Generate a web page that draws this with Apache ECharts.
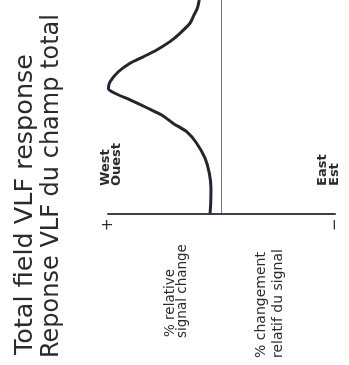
<!DOCTYPE html>
<html>
<head>
<meta charset="utf-8">
<script src="https://cdn.jsdelivr.net/npm/echarts@6/dist/echarts.min.js"></script>
<style>
html,body{margin:0;padding:0;background:#fff;}
#c{width:349px;height:365px;}
</style>
</head>
<body>
<div id="c"></div>
<script>
// Profile position along the traverse (0 = at the axis, 100 = top of figure)
const positions = [0, 4.8, 11.8, 18.8, 25.9, 32.9, 38.3, 42.2, 46.1, 49.3, 53.2, 56.3, 58.6, 61.7, 66.4, 70.4, 73.4, 76.6, 80.5, 84.4, 89.1, 93.0, 96.1, 100];
// % relative signal change (positive to the left)
const signalChange = [1.01, 0.95, 0.93, 1.07, 1.45, 2.19, 3.07, 4.25, 5.27, 6.48, 8.06, 9.38, 9.97, 9.82, 9.09, 8.06, 6.89, 5.71, 4.54, 3.66, 2.78, 2.42, 2.13, 1.96];
// tick labels at the ends of the signal-change axis
const tickValues = [10, -10];
const tickLabels = ['+', '\u2212'];

const titleLines = ['Total field VLF response', 'Reponse VLF du champ total'];
const westLabels = ['West', 'Ouest'];
const eastLabels = ['East', 'Est'];
const axisTitleEn = ['% relative', 'signal change'];
const axisTitleFr = ['% changement', 'relatif du signal'];

const chart = echarts.init(document.getElementById('c'), null, {renderer: 'canvas'});

function vtext(str, x, y, font, align) {
  return {
    type: 'text', x: x, y: y, rotation: Math.PI / 2,
    style: {
      text: str, font: font, fill: '#2b2b2b',
      textAlign: align || 'left', align: align || 'left',
      textVerticalAlign: 'middle', verticalAlign: 'middle'
    }
  };
}

const F = "'DejaVu Sans', sans-serif";
const graphics = [
  vtext(titleLines[0], 25, 355, '25.5px ' + F),
  vtext(titleLines[1], 52, 358, '24px ' + F),
  vtext(westLabels[0], 106, 186, 'bold 13px ' + F),
  vtext(westLabels[1], 116.5, 186, 'bold 13px ' + F),
  vtext(eastLabels[0], 322.5, 186, 'bold 13px ' + F),
  vtext(eastLabels[1], 335, 186, 'bold 13px ' + F),
  vtext(axisTitleEn[0], 170, 337, '13.5px ' + F),
  vtext(axisTitleEn[1], 182, 338, '13.5px ' + F),
  vtext(axisTitleFr[0], 261, 358, '14px ' + F),
  vtext(axisTitleFr[1], 278, 358, '14px ' + F)
];

chart.setOption({
  animation: false,
  backgroundColor: '#ffffff',
  grid: {left: 108, right: 14, top: 0, bottom: 151.5, containLabel: false},
  xAxis: {
    type: 'value', min: -10, max: 10, interval: 10, inverse: true,
    axisLine: {show: true, onZero: false, lineStyle: {color: '#3a3f52', width: 2}},
    axisTick: {show: false},
    splitLine: {show: false},
    axisLabel: {
      show: true, rotate: 90, margin: 5, color: '#2b2b2b', fontSize: 15,
      fontFamily: 'DejaVu Sans', showMinLabel: true, showMaxLabel: true,
      formatter: function (v) {
        const i = tickValues.indexOf(v);
        return i >= 0 ? tickLabels[i] : '';
      }
    }
  },
  yAxis: {
    type: 'value', min: 0, max: 100,
    axisLine: {show: true, onZero: true, lineStyle: {color: '#777', width: 1}},
    axisTick: {show: false},
    axisLabel: {show: false},
    splitLine: {show: false}
  },
  series: [{
    type: 'line',
    data: positions.map((p, i) => [signalChange[i], p]),
    showSymbol: false,
    smooth: 0.25,
    clip: false,
    lineStyle: {color: '#222630', width: 3}
  }],
  graphic: graphics
});
</script>
</body>
</html>
